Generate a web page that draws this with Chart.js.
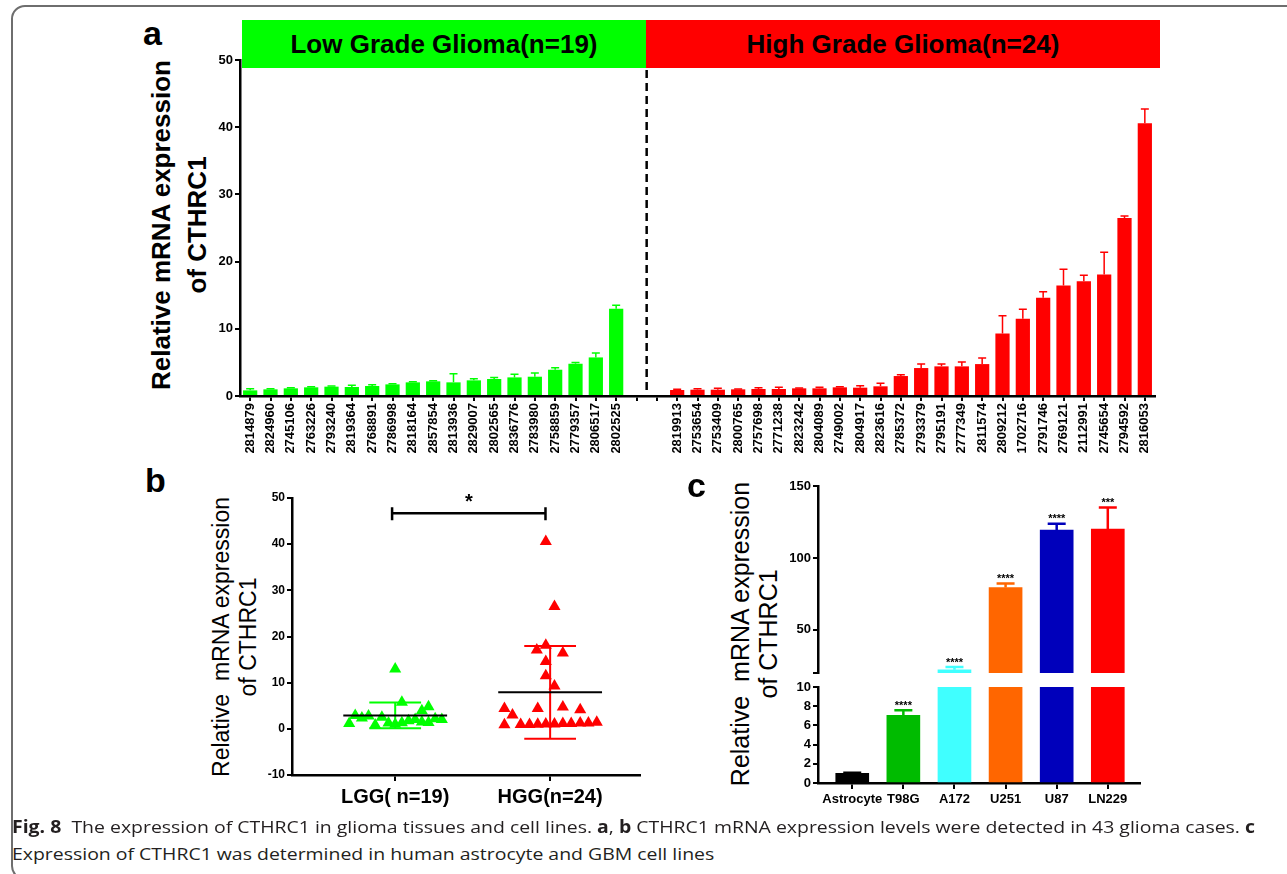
<!DOCTYPE html>
<html lang="en">
<head>
<meta charset="UTF-8">
<title>CTHRC1 expression in glioma</title>
<script src="https://cdn.jsdelivr.net/npm/chart.js"></script>
<style>
  body { margin: 0; width: 1287px; height: 874px; overflow: hidden; background: #fff; position: relative;
         font-family: "Liberation Sans", Arial, sans-serif; color: #000; }
  .frame { position: absolute; left: 11px; top: 5px; width: 1330px; height: 871px; border: 2px solid #6e6e6e; border-radius: 14px; }
  canvas { position: absolute; }
  .letter { position: absolute; font-weight: bold; font-size: 34px; line-height: 34px; }
  .banner { position: absolute; top: 20px; height: 48px; line-height: 48px; text-align: center; font-weight: bold; font-size: 26px; }
  .ytitle { position: absolute; text-align: center; white-space: pre; transform: translate(-50%, -50%) rotate(-90deg); }
  .caption { position: absolute; left: 12px; font-family: "Open Sans", sans-serif; font-size: 17px; line-height: 20px;
             color: #231f20; white-space: nowrap; transform-origin: 0 0; }
</style>
</head>
<body>
  <div class="frame"></div>

  <!-- panel a -->
  <div class="letter" style="left:143px; top:16px;">a</div>
  <div class="banner" style="left:242px; width:404px; background:#00ff00;">Low Grade Glioma(n=19)</div>
  <div class="banner" style="left:646px; width:514px; background:#ff0000;">High Grade Glioma(n=24)</div>
  <div class="ytitle" style="left:179px; top:225px; font-weight:bold; font-size:26px; line-height:36px;">Relative mRNA expression
of CTHRC1</div>
  <canvas id="chartA" width="1005" height="438" style="left:170px; top:40px;"></canvas>

  <!-- panel b -->
  <div class="letter" style="left:145px; top:463px;">b</div>
  <div class="ytitle" style="left:235px; top:637px; font-size:23px; line-height:27px;">Relative  mRNA expression
of CTHRC1</div>
  <canvas id="chartB" width="428" height="357" style="left:232px; top:478px;"></canvas>

  <!-- panel c -->
  <div class="letter" style="left:687px; top:468px;">c</div>
  <div class="ytitle" style="left:754px; top:634px; font-size:25px; line-height:28px;">Relative  mRNA expression
of CTHRC1</div>
  <canvas id="chartCTop" width="407" height="227" style="left:753px; top:466px;"></canvas>
  <canvas id="chartCBottom" width="407" height="171" style="left:753px; top:667px;"></canvas>

  <div class="caption" id="cap1" style="top:817px;"><b>Fig. 8</b>&nbsp; The expression of CTHRC1 in glioma tissues and cell lines. <b>a</b>, <b>b</b> CTHRC1 mRNA expression levels were detected in 43 glioma cases. <b>c</b></div>
  <div class="caption" id="cap2" style="top:844px;">Expression of CTHRC1 was determined in human astrocyte and GBM cell lines</div>

<script>
  // ---- panel a / b data (same samples) ----
  const lggIds = ["2814879", "2824960", "2745106", "2763226", "2793240", "2819364", "2768891", "2786998", "2818164", "2857854",
                  "2813936", "2829007", "2802565", "2836776", "2783980", "2758859", "2779357", "2806517", "2802525"];
  const lggValues = [0.84, 0.99, 1.14, 1.29, 1.39, 1.34, 1.49, 1.73, 2.03, 2.18, 2.03, 2.33, 2.53, 2.77, 2.87, 3.91, 4.80, 5.74, 12.97];
  const lggSd = [0.25, 0.10, 0.10, 0.10, 0.10, 0.25, 0.19, 0.10, 0.10, 0.10, 1.29, 0.25, 0.24, 0.45, 0.55, 0.30, 0.20, 0.65, 0.55];
  const lggJitter = [-0.129, 0, -0.297, -0.043, 0.215, 0.043, 0.172, 0.086, 0.301, 0.258, 0.129, -0.215, -0.086, -0.172, -0.258, 0.172, 0.215, 0.043, 0];

  const hggIds = ["2819913", "2753654", "2753409", "2800765", "2757698", "2771238", "2823242", "2804089", "2749002", "2804917",
                  "2823616", "2785372", "2793379", "2795191", "2777349", "2811574", "2809212", "1702716", "2791746", "2769121",
                  "2112991", "2745654", "2794592", "2816053"];
  const hggValues = [0.89, 0.94, 0.94, 0.99, 1.04, 1.04, 1.14, 1.14, 1.29, 1.24, 1.44, 2.97, 4.16, 4.41, 4.41, 4.75,
                     9.30, 11.48, 14.61, 16.44, 17.08, 18.08, 26.50, 40.60];
  const hggSd = [0.10, 0.15, 0.20, 0.05, 0.20, 0.25, 0.05, 0.15, 0.10, 0.30, 0.44, 0.20, 0.59, 0.34, 0.64, 0.89,
                 2.64, 1.44, 0.89, 2.43, 0.89, 3.32, 0.30, 2.10];
  const hggJitter = [-0.295, -0.19, -0.133, -0.08, -0.028, 0.028, 0.082, 0.136, 0.194, 0.247, 0.301, -0.243, 0.194,
                     -0.295, -0.08, 0.082, 0.028, -0.028, -0.028, 0.082, -0.086, -0.028, 0.028, -0.028];

  // panel b summary (mean +/- SD as drawn)
  const groupNames = ["LGG( n=19)", "HGG(n=24)"];
  const groupMeans = [2.9, 7.9];
  const groupSds = [2.8, 10.05];
  const sigLevel = 46.7;

  // ---- panel c data ----
  const cellLines = ["Astrocyte", "T98G", "A172", "U251", "U87", "LN229"];
  const cellValues = [1.0, 7.06, 22.2, 79.4, 119.3, 120.0];
  const cellSd = [0.06, 0.52, 1.9, 2.8, 4.5, 15.0];
  const cellStars = ["", "****", "****", "****", "****", "***"];

  const GREEN = "#00ff00", RED = "#ff0000";
  const cellColors = ["#000000", "#00bb00", "#40ffff", "#ff6600", "#0000bb", "#ff0000"];
  const FONT = '"Liberation Sans", Arial, sans-serif';

  Chart.defaults.font.family = FONT;
  Chart.defaults.color = "#000";

  // upper error bars on bars, clipped to the chart area
  const errorBarPlugin = {
    id: "errorBars",
    afterDatasetsDraw(chart, args, opts) {
      const { ctx, chartArea, scales } = chart;
      const ds = chart.data.datasets[0];
      const meta = chart.getDatasetMeta(0);
      ctx.save();
      ctx.beginPath();
      ctx.rect(chartArea.left, chartArea.top - 1, chartArea.width, chartArea.height + 1);
      ctx.clip();
      meta.data.forEach((bar, i) => {
        const raw = ds.data[i];
        const v = raw && typeof raw === "object" ? raw.y : raw;
        const e = ds.errors[i];
        if (v == null || e == null) return;
        const color = Array.isArray(ds.backgroundColor) ? ds.backgroundColor[i] : ds.backgroundColor;
        const y0 = scales.y.getPixelForValue(v);
        const y1 = scales.y.getPixelForValue(v + e);
        ctx.strokeStyle = color;
        ctx.lineWidth = opts.lineWidth;
        ctx.beginPath();
        ctx.moveTo(bar.x, y0);
        ctx.lineTo(bar.x, y1);
        ctx.moveTo(bar.x - opts.capWidth / 2, y1);
        ctx.lineTo(bar.x + opts.capWidth / 2, y1);
        ctx.stroke();
      });
      ctx.restore();

      // significance stars above the caps
      if (ds.stars) {
        ctx.save();
        ctx.fillStyle = "#000";
        ctx.font = "bold 11px " + FONT;
        ctx.textAlign = "center";
        ctx.textBaseline = "bottom";
        meta.data.forEach((bar, i) => {
          const top = ds.data[i].y + ds.errors[i];
          if (!ds.stars[i] || top < scales.y.min || top > scales.y.max) return;
          ctx.fillText(ds.stars[i], bar.x, scales.y.getPixelForValue(top) + 1);
        });
        ctx.restore();
      }
    }
  };

  // dashed divider between LGG and HGG
  const dividerPlugin = {
    id: "divider",
    afterDatasetsDraw(chart) {
      const { ctx, chartArea, scales } = chart;
      const n = lggIds.length;
      const x = (scales.x.getPixelForValue(n) + scales.x.getPixelForValue(n + 1)) / 2;
      ctx.save();
      ctx.strokeStyle = "#000";
      ctx.lineWidth = 2.5;
      ctx.setLineDash([8, 5]);
      ctx.beginPath();
      ctx.moveTo(x, chartArea.top + 10);
      ctx.lineTo(x, chartArea.bottom);
      ctx.stroke();
      ctx.restore();
    }
  };

  // mean +/- SD and significance bracket for panel b
  const summaryPlugin = {
    id: "summary",
    afterDatasetsDraw(chart) {
      const { ctx, scales: { x, y } } = chart;
      const lineColors = [GREEN, RED];
      ctx.save();
      groupMeans.forEach((m, i) => {
        const c = i + 1;
        const yHi = y.getPixelForValue(m + groupSds[i]);
        const yLo = y.getPixelForValue(m - groupSds[i]);
        const yM = y.getPixelForValue(m);
        ctx.lineWidth = 2;
        ctx.strokeStyle = lineColors[i];
        ctx.beginPath();
        ctx.moveTo(x.getPixelForValue(c), yHi);
        ctx.lineTo(x.getPixelForValue(c), yLo);
        ctx.moveTo(x.getPixelForValue(c - 0.167), yHi);
        ctx.lineTo(x.getPixelForValue(c + 0.167), yHi);
        ctx.moveTo(x.getPixelForValue(c - 0.167), yLo);
        ctx.lineTo(x.getPixelForValue(c + 0.167), yLo);
        ctx.stroke();
        ctx.strokeStyle = "#000";
        ctx.beginPath();
        ctx.moveTo(x.getPixelForValue(c - 0.335), yM);
        ctx.lineTo(x.getPixelForValue(c + 0.335), yM);
        ctx.stroke();
      });
      // bracket
      const x1 = x.getPixelForValue(0.98), x2 = x.getPixelForValue(1.97);
      const ys = y.getPixelForValue(sigLevel);
      ctx.strokeStyle = "#000";
      ctx.lineWidth = 2.5;
      ctx.beginPath();
      ctx.moveTo(x1, ys); ctx.lineTo(x2, ys);
      ctx.moveTo(x1, ys - 6); ctx.lineTo(x1, ys + 7);
      ctx.moveTo(x2, ys - 6); ctx.lineTo(x2, ys + 7);
      ctx.stroke();
      ctx.fillStyle = "#000";
      ctx.font = "bold 20px " + FONT;
      ctx.textAlign = "center";
      ctx.textBaseline = "bottom";
      ctx.fillText("*", (x1 + x2) / 2, ys - 1);
      ctx.restore();
    }
  };

  const axisBorder = { color: "#000", width: 2.5 };
  const tickGrid = (len) => ({ drawOnChartArea: false, drawTicks: true, tickLength: len, color: "#000", lineWidth: 2, offset: false });

  // ---- panel a ----
  const labelsA = [...lggIds, "", "", ...hggIds];
  const valuesA = [...lggValues, null, null, ...hggValues];
  const sdA = [...lggSd, null, null, ...hggSd];
  const colorsA = labelsA.map((_, i) => (i < lggIds.length ? GREEN : RED));

  new Chart(document.getElementById("chartA"), {
    type: "bar",
    data: {
      labels: labelsA,
      datasets: [{ data: valuesA, errors: sdA, backgroundColor: colorsA, categoryPercentage: 1, barPercentage: 0.7 }]
    },
    options: {
      responsive: false,
      animation: false,
      layout: { padding: 20 },
      plugins: {
        legend: { display: false },
        tooltip: { enabled: false },
        errorBars: { capWidth: 8, lineWidth: 1.5 }
      },
      scales: {
        x: {
          grid: tickGrid(5),
          border: axisBorder,
          ticks: { font: { size: 13, weight: "bold" }, minRotation: 90, maxRotation: 90, autoSkip: false, padding: 2 },
          afterFit(s) { s.height = 62; }
        },
        y: {
          min: 0, max: 50,
          grid: tickGrid(5),
          border: axisBorder,
          ticks: { stepSize: 10, font: { size: 13, weight: "bold" }, padding: 2 },
          afterFit(s) { s.width = 50; }
        }
      }
    },
    plugins: [errorBarPlugin, dividerPlugin]
  });

  // ---- panel b ----
  new Chart(document.getElementById("chartB"), {
    type: "scatter",
    data: {
      datasets: [
        { data: lggValues.map((v, i) => ({ x: 1 + lggJitter[i], y: v })), backgroundColor: GREEN, borderColor: GREEN,
          pointStyle: "triangle", pointRadius: 7, borderWidth: 0 },
        { data: hggValues.map((v, i) => ({ x: 2 + hggJitter[i], y: v })), backgroundColor: RED, borderColor: RED,
          pointStyle: "triangle", pointRadius: 7, borderWidth: 0 }
      ]
    },
    options: {
      responsive: false,
      animation: false,
      layout: { padding: 20 },
      plugins: { legend: { display: false }, tooltip: { enabled: false } },
      scales: {
        x: {
          type: "linear", min: 0.334, max: 2.58, offset: false,
          grid: tickGrid(6),
          border: axisBorder,
          afterBuildTicks(s) { s.ticks = groupNames.map((_, i) => ({ value: i + 1 })); },
          ticks: { font: { size: 20, weight: "bold" }, padding: 4, maxRotation: 0, callback: (v) => groupNames[v - 1] },
          afterFit(s) { s.height = 40; }
        },
        y: {
          min: -10, max: 50,
          grid: tickGrid(5),
          border: axisBorder,
          ticks: { stepSize: 10, font: { size: 12, weight: "bold" }, padding: 2 },
          afterFit(s) { s.width = 40; }
        }
      }
    },
    plugins: [summaryPlugin]
  });

  // ---- panel c (broken axis: two stacked charts) ----
  const cellData = cellValues.map((v, i) => ({ x: i, y: v }));
  function cellChart(id, yMin, yMax, yTicks, showX) {
    return new Chart(document.getElementById(id), {
      type: "bar",
      data: {
        datasets: [{ data: cellData, errors: cellSd, stars: cellStars, backgroundColor: cellColors, barThickness: 33 }]
      },
      options: {
        responsive: false,
        animation: false,
        layout: { padding: 20 },
        plugins: {
          legend: { display: false },
          tooltip: { enabled: false },
          errorBars: { capWidth: 18, lineWidth: 2.5 }
        },
        scales: {
          x: {
            type: "linear", min: -0.67, max: 5.63, offset: false, display: showX,
            grid: tickGrid(6),
            border: axisBorder,
            afterBuildTicks(s) { s.ticks = cellLines.map((_, i) => ({ value: i })); },
            ticks: { font: { size: 13, weight: "bold" }, padding: 3, maxRotation: 0, minRotation: 0, callback: (v) => cellLines[v] },
            afterFit(s) { s.height = showX ? 35 : 0; }
          },
          y: {
            min: yMin, max: yMax,
            grid: tickGrid(5),
            border: axisBorder,
            afterBuildTicks(s) { s.ticks = yTicks.map((v) => ({ value: v })); },
            ticks: { font: { size: 13, weight: "bold" }, padding: 2, callback: (v) => (v === yMin && yMin > 0 ? "" : v) },
            afterFit(s) { s.width = 45; }
          }
        }
      },
      plugins: [errorBarPlugin]
    });
  }
  cellChart("chartCTop", 20, 150, [20, 50, 100, 150], false);
  cellChart("chartCBottom", 0, 10, [0, 2, 4, 6, 8, 10], true);

  // stretch the caption lines to the printed width
  document.fonts.ready.then(() => {
    const cap1 = document.getElementById("cap1");
    const cap2 = document.getElementById("cap2");
    const k = (1255 - 12) / cap1.getBoundingClientRect().width;
    cap1.style.transform = "scaleX(" + k + ")";
    cap2.style.transform = "scaleX(" + k + ")";
  });
</script>
</body>
</html>
